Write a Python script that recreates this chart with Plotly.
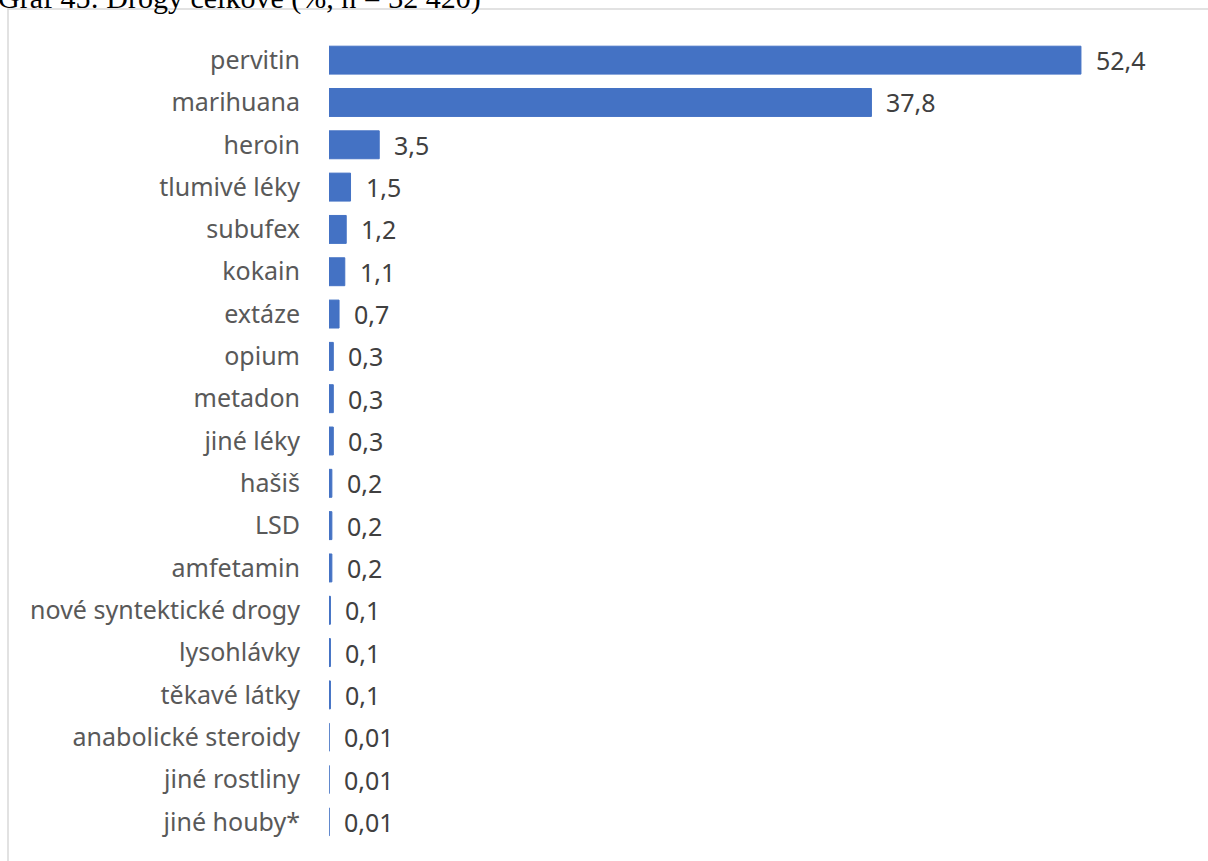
import plotly.graph_objects as go

# data
drogy = [
    "pervitin", "marihuana", "heroin", "tlumivé léky", "subufex", "kokain",
    "extáze", "opium", "metadon", "jiné léky", "hašiš", "LSD", "amfetamin",
    "nové syntektické drogy", "lysohlávky", "těkavé látky",
    "anabolické steroidy", "jiné rostliny", "jiné houby*",
]
podil = [52.4, 37.8, 3.5, 1.5, 1.2, 1.1, 0.7, 0.3, 0.3, 0.3, 0.2, 0.2, 0.2,
         0.1, 0.1, 0.1, 0.01, 0.01, 0.01]
popisky = [f"{v:g}".replace(".", ",") for v in podil]

W, H = 1208, 861
L, R, T, B = 329, 18, 39, 18
pw, ph = W - L - R, H - T - B

fig = go.Figure()
fig.add_trace(go.Bar(
    y=drogy,
    x=podil,
    orientation="h",
    marker=dict(color="#4472C4", line=dict(color="#4472C4", width=1)),
    width=0.66,
    hoverinfo="x+y",
))

# value labels to the right of the bars
for d, v, t in zip(drogy, podil, popisky):
    fig.add_annotation(
        x=v, y=d, text=t, showarrow=False, xanchor="left", xshift=13,
        font=dict(family="Noto Sans", size=25, color="#404040"),
    )

# chart frame
fig.add_shape(
    type="rect", xref="paper", yref="paper",
    x0=(8 - L) / pw, x1=(W + 5 - L) / pw,
    y0=-(B + 5) / ph, y1=1 + (T - 9) / ph,
    line=dict(color="#d9d9d9", width=1.5), layer="below",
)

# title, cut off by the top edge in the original
fig.add_annotation(
    text="Graf 45: Drogy celkové (%, n = 32 420)",
    xref="paper", yref="paper", x=-L / pw, y=1, xanchor="left", yanchor="bottom",
    xshift=-4, yshift=T - 17, showarrow=False,
    font=dict(family="Liberation Serif", size=30, color="#000000"),
)

fig.update_layout(
    width=W, height=H,
    margin=dict(l=L, r=R, t=T, b=B),
    paper_bgcolor="white", plot_bgcolor="white",
    showlegend=False,
    xaxis=dict(range=[0, 60], visible=False),
    yaxis=dict(
        autorange="reversed", showgrid=False, showline=False, ticks="",
        ticklabelstandoff=28,
        tickfont=dict(family="Noto Sans", size=25, color="#595959"),
    ),
)

fig.write_html(
    "out.html",
    config={"displayModeBar": False},
    post_script="document.body.style.margin='0';document.body.style.overflow='hidden';",
)
